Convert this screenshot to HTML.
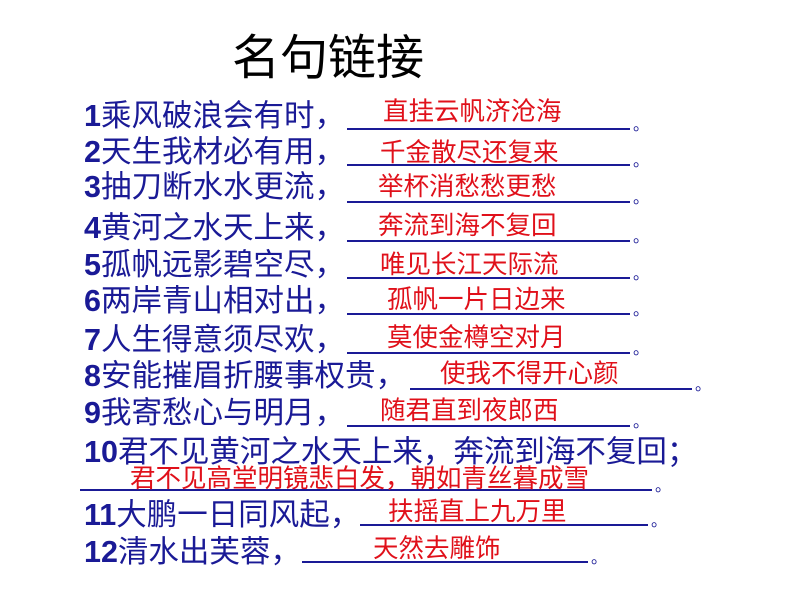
<!DOCTYPE html>
<html><head><meta charset="utf-8"><style>
body{margin:0;width:794px;height:596px;background:#fff;position:relative;overflow:hidden;font-family:"Liberation Sans","Noto Sans CJK SC",sans-serif;}
.t{position:absolute;left:232px;top:30px;font-size:48px;color:#000;line-height:58px;}
.q{position:absolute;left:84px;font-size:30.5px;line-height:34px;color:#1a1a96;white-space:nowrap;}
.q b{font-weight:bold;}
.a{position:absolute;font-size:25.5px;line-height:28px;color:#e0101a;white-space:nowrap;font-weight:normal;}
.u{position:absolute;height:2px;background:#1a1a96;}
.p{position:absolute;font-size:16px;color:#1a1a96;line-height:16px;}
</style></head><body>
<div class="t">名句链接</div>

<div class="q" style="top:99px"><b>1</b>乘风破浪会有时，</div>
<div class="u" style="left:347px;width:283px;top:128px"></div><div class="p" style="left:633px;top:118px">。</div>
<div class="a" style="left:383px;top:98px">直挂云帆济沧海</div>

<div class="q" style="top:135px"><b>2</b>天生我材必有用，</div>
<div class="u" style="left:347px;width:283px;top:164px"></div><div class="p" style="left:633px;top:154px">。</div>
<div class="a" style="left:380px;top:139px">千金散尽还复来</div>

<div class="q" style="top:170px"><b>3</b>抽刀断水水更流，</div>
<div class="u" style="left:347px;width:283px;top:201px"></div><div class="p" style="left:633px;top:191px">。</div>
<div class="a" style="left:378px;top:173px">举杯消愁愁更愁</div>

<div class="q" style="top:211px"><b>4</b>黄河之水天上来，</div>
<div class="u" style="left:347px;width:283px;top:240px"></div><div class="p" style="left:633px;top:230px">。</div>
<div class="a" style="left:378px;top:212px">奔流到海不复回</div>

<div class="q" style="top:248px"><b>5</b>孤帆远影碧空尽，</div>
<div class="u" style="left:347px;width:283px;top:277px"></div><div class="p" style="left:633px;top:267px">。</div>
<div class="a" style="left:380px;top:251px">唯见长江天际流</div>

<div class="q" style="top:284px"><b>6</b>两岸青山相对出，</div>
<div class="u" style="left:347px;width:283px;top:313px"></div><div class="p" style="left:633px;top:303px">。</div>
<div class="a" style="left:387px;top:286px">孤帆一片日边来</div>

<div class="q" style="top:323px"><b>7</b>人生得意须尽欢，</div>
<div class="u" style="left:347px;width:283px;top:352px"></div><div class="p" style="left:633px;top:342px">。</div>
<div class="a" style="left:387px;top:324px">莫使金樽空对月</div>

<div class="q" style="top:359px"><b>8</b>安能摧眉折腰事权贵，</div>
<div class="u" style="left:410px;width:282px;top:388px"></div><div class="p" style="left:695px;top:378px">。</div>
<div class="a" style="left:440px;top:360px">使我不得开心颜</div>

<div class="q" style="top:396px"><b>9</b>我寄愁心与明月，</div>
<div class="u" style="left:347px;width:283px;top:425px"></div><div class="p" style="left:633px;top:415px">。</div>
<div class="a" style="left:380px;top:397px">随君直到夜郎西</div>

<div class="q" style="top:435px"><b>10</b>君不见黄河之水天上来，奔流到海不复回；</div>
<div class="u" style="left:80px;width:572px;top:489px"></div><div class="p" style="left:655px;top:479px">。</div>
<div class="a" style="left:130px;top:465px">君不见高堂明镜悲白发，朝如青丝暮成雪</div>

<div class="q" style="top:498px"><b>11</b>大鹏一日同风起，</div>
<div class="u" style="left:360px;width:288px;top:524px"></div><div class="p" style="left:651px;top:514px">。</div>
<div class="a" style="left:388px;top:498px">扶摇直上九万里</div>

<div class="q" style="top:535px"><b>12</b>清水出芙蓉，</div>
<div class="u" style="left:302px;width:286px;top:561px"></div><div class="p" style="left:591px;top:551px">。</div>
<div class="a" style="left:373px;top:535px">天然去雕饰</div>
</body></html>
